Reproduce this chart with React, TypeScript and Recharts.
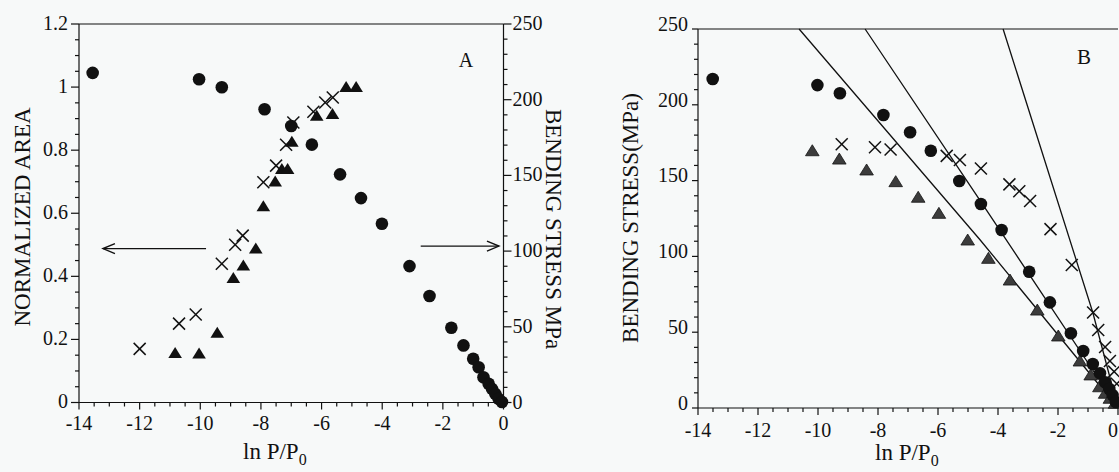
import { ScatterChart, Scatter, XAxis, YAxis, ReferenceLine } from "recharts";

const INK = "#111111";
const BG = "#f7f9f9";
const FONT = '"Liberation Serif", "Times New Roman", Times, serif';

// ---- panel A: bending stress (right axis) ----
const aStress: [number, number][] = [
  [-13.55, 217.7], [-10.04, 213.5], [-9.29, 208.2], [-7.88, 193.7], [-7.0, 182.6],
  [-6.32, 170.3], [-5.39, 150.7], [-4.7, 135], [-4.01, 118.1], [-3.1, 90.1],
  [-2.44, 70.3], [-1.72, 49.4], [-1.32, 37.7], [-1.0, 28.9], [-0.82, 23.3],
  [-0.66, 16.7], [-0.49, 12.4], [-0.38, 9], [-0.27, 5.7], [-0.16, 2.4], [-0.05, 0.3],
];

// ---- panel A: normalized area (left axis) ----
const aAreaCross: [number, number][] = [
  [-12.0, 0.17], [-10.7, 0.25], [-10.15, 0.279], [-9.29, 0.44], [-8.85, 0.5],
  [-8.6, 0.529], [-7.92, 0.698], [-7.5, 0.751], [-7.17, 0.817], [-6.93, 0.888],
  [-6.27, 0.922], [-5.88, 0.951], [-5.63, 0.967],
];
const aAreaTri: [number, number][] = [
  [-10.83, 0.157], [-10.04, 0.155], [-9.44, 0.221], [-8.91, 0.395], [-8.58, 0.434],
  [-8.17, 0.488], [-7.92, 0.622], [-7.53, 0.701], [-7.31, 0.74], [-7.12, 0.74],
  [-6.98, 0.827], [-6.16, 0.909], [-5.64, 0.915], [-5.19, 1.0], [-4.86, 1.0],
];

// arrows pointing at the axes: [x, y] start -> end
const aArrowLeft: [number, number][] = [[-9.81, 0.488], [-13.21, 0.488]];
const aArrowRight: [number, number][] = [[-2.73, 103.3], [-0.15, 103.3]];

// ---- panel B: bending stress ----
const bCircle: [number, number][] = [
  [-13.51, 217], [-10.02, 213], [-9.27, 207.6], [-7.82, 193.3], [-6.93, 181.9],
  [-6.24, 169.7], [-5.29, 149.7], [-4.57, 134.6], [-3.88, 117.4], [-2.96, 89.9],
  [-2.27, 69.7], [-1.57, 49.3], [-1.16, 37.6], [-0.84, 29], [-0.6, 22.9],
  [-0.43, 17], [-0.29, 12.5], [-0.18, 8.5], [-0.07, 4],
];
const bCross: [number, number][] = [
  [-9.21, 174], [-8.1, 172], [-7.58, 170.5], [-5.71, 166.3], [-5.27, 163.6],
  [-4.57, 158], [-3.62, 147.5], [-3.29, 143], [-2.93, 136.5], [-2.25, 118],
  [-1.54, 94.3], [-0.83, 63], [-0.66, 51.5], [-0.43, 40.2], [-0.27, 31],
  [-0.13, 24], [-0.04, 16],
];
const bTri: [number, number][] = [
  [-10.19, 169.7], [-9.29, 164.2], [-8.38, 157], [-7.41, 149.3], [-6.66, 139],
  [-5.97, 128.4], [-5.01, 110.8], [-4.32, 98.7], [-3.6, 84.4], [-2.69, 64.6],
  [-1.99, 47.5], [-1.27, 31], [-0.91, 21.8], [-0.62, 14], [-0.43, 9.7],
  [-0.27, 6.4], [-0.1, 3.1],
];
// straight fit lines
const bFitTri: [number, number][] = [[-10.63, 250], [-4.6, 111], [0, 0]];
const bFitCircle: [number, number][] = [[-8.43, 250], [-4.6, 137], [0, 0]];
const bFitCross: [number, number][] = [[-3.83, 250], [-0.84, 63], [0, 0]];

// ---- ticks ----
const xMajor = [-14, -12, -10, -8, -6, -4, -2, 0];
const areaMajor = [0, 0.2, 0.4, 0.6, 0.8, 1, 1.2];
const stressMajor = [0, 50, 100, 150, 200, 250];

function steps(lo: number, hi: number, step: number) {
  const out: number[] = [];
  for (let v = lo; v <= hi + 1e-9; v += step) out.push(+v.toFixed(4));
  return out;
}
const xTicks = steps(-14, 0, 0.5);
const areaTicks = steps(0, 1.2, 0.05);
const stressTicks = steps(0, 250, 10);

const isMajor = (v: number, majors: number[]) => majors.some((m) => Math.abs(m - v) < 1e-6);
const pts = (d: [number, number][]) => d.map(([x, y]) => ({ x, y }));

function BottomTick({ x, y, payload, majors, labelDy, clampRight }: any) {
  const major = isMajor(payload.value, majors);
  // keep the last label inside the visible window
  const atEdge = clampRight !== undefined && x + 6 > clampRight;
  return (
    <g>
      <line x1={x} x2={x} y1={y} y2={y + (major ? 7 : 4)} stroke={INK} strokeWidth={1.2} />
      {major && (
        <text
          x={atEdge ? clampRight : x}
          y={y + labelDy}
          textAnchor={atEdge ? "end" : "middle"}
          fontSize={20}
          fontFamily={FONT}
          fill={INK}
        >
          {payload.value}
        </text>
      )}
    </g>
  );
}

function SideTick({ x, y, payload, majors, side, len, gap, labelDy }: any) {
  const major = isMajor(payload.value, majors);
  const dir = side === "left" ? -1 : 1;
  const l = major ? len : 4;
  return (
    <g>
      <line x1={x} x2={x + dir * l} y1={y} y2={y} stroke={INK} strokeWidth={1.2} />
      {major && (
        <text
          x={x + dir * (len + gap)}
          y={y + labelDy}
          textAnchor={side === "left" ? "end" : "start"}
          fontSize={20}
          fontFamily={FONT}
          fill={INK}
        >
          {payload.value}
        </text>
      )}
    </g>
  );
}

function Arrow({ x1, y1, x2, y2 }: any) {
  const ang = Math.atan2(y2 - y1, x2 - x1);
  const L = 12;
  const W = 5;
  const bx = x2 - L * Math.cos(ang);
  const by = y2 - L * Math.sin(ang);
  const nx = -Math.sin(ang) * W;
  const ny = Math.cos(ang) * W;
  return (
    <g>
      <line x1={x1} y1={y1} x2={x2} y2={y2} stroke={INK} strokeWidth={1.4} />
      <polyline points={`${bx + nx},${by + ny} ${x2},${y2} ${bx - nx},${by - ny}`} fill="none" stroke={INK} strokeWidth={1.4} />
    </g>
  );
}

const Dot = ({ cx, cy }: any) => <circle cx={cx} cy={cy} r={6.3} fill={INK} />;
const Cross = ({ cx, cy }: any) => (
  <g stroke={INK} strokeWidth={1.5}>
    <line x1={cx - 6} y1={cy - 6} x2={cx + 6} y2={cy + 6} />
    <line x1={cx - 6} y1={cy + 6} x2={cx + 6} y2={cy - 6} />
  </g>
);
const Tri = ({ cx, cy }: any) => (
  <polygon points={`${cx},${cy - 6} ${cx + 6.8},${cy + 5} ${cx - 6.8},${cy + 5}`} fill={INK} />
);
const GreyTri = ({ cx, cy }: any) => (
  <polygon
    points={`${cx},${cy - 6} ${cx + 6.8},${cy + 5} ${cx - 6.8},${cy + 5}`}
    fill="#3c3c3c"
    stroke="#151515"
    strokeWidth={0.8}
  />
);
const NoShape = () => <g />;

function PanelA() {
  return (
    <ScatterChart width={600} height={472} margin={{ top: 24, right: 0, bottom: 0, left: 0 }}>
      <XAxis
        type="number"
        dataKey="x"
        domain={[-14, 0]}
        ticks={xTicks}
        interval={0}
        height={69.5}
        tickSize={0}
        tickMargin={0}
        axisLine={{ stroke: INK, strokeWidth: 1.2 }}
        tickLine={false}
        tick={<BottomTick majors={xMajor} labelDy={27} />}
      />
      <YAxis
        yAxisId="left"
        type="number"
        dataKey="y"
        domain={[0, 1.2]}
        ticks={areaTicks}
        interval={0}
        width={79}
        tickSize={0}
        tickMargin={0}
        axisLine={{ stroke: INK, strokeWidth: 1.2 }}
        tickLine={false}
        tick={<SideTick majors={areaMajor} side="left" len={8} gap={3} labelDy={5.5} />}
      />
      <YAxis
        yAxisId="right"
        orientation="right"
        type="number"
        dataKey="y"
        domain={[0, 250]}
        ticks={stressTicks}
        interval={0}
        width={96.5}
        tickSize={0}
        tickMargin={0}
        axisLine={{ stroke: INK, strokeWidth: 1.2 }}
        tickLine={false}
        tick={<SideTick majors={stressMajor} side="right" len={8} gap={1} labelDy={6} />}
      />
      <ReferenceLine yAxisId="left" y={1.2} stroke={INK} strokeWidth={1.2} ifOverflow="visible" />
      <ReferenceLine
        yAxisId="left"
        segment={aArrowLeft.map(([x, y]) => ({ x, y }))}
        shape={(p: any) => <Arrow {...p} />}
      />
      <ReferenceLine
        yAxisId="right"
        segment={aArrowRight.map(([x, y]) => ({ x, y }))}
        shape={(p: any) => <Arrow {...p} />}
      />
      <Scatter yAxisId="right" data={pts(aStress)} shape={Dot} isAnimationActive={false} />
      <Scatter yAxisId="left" data={pts(aAreaTri)} shape={Tri} isAnimationActive={false} />
      <Scatter yAxisId="left" data={pts(aAreaCross)} shape={Cross} isAnimationActive={false} />
    </ScatterChart>
  );
}

function PanelB() {
  return (
    <ScatterChart width={600} height={472} margin={{ top: 29, right: 42, bottom: 0, left: 0 }}>
      <XAxis
        type="number"
        dataKey="x"
        domain={[-14, 0]}
        ticks={xTicks}
        interval={0}
        height={64}
        tickSize={0}
        tickMargin={0}
        axisLine={{ stroke: INK, strokeWidth: 1.2 }}
        tickLine={false}
        tick={<BottomTick majors={xMajor} labelDy={28.5} clampRight={558} />}
      />
      <YAxis
        type="number"
        dataKey="y"
        domain={[0, 250]}
        ticks={stressTicks}
        interval={0}
        width={138}
        tickSize={0}
        tickMargin={0}
        axisLine={{ stroke: INK, strokeWidth: 1.2 }}
        tickLine={false}
        tick={<SideTick majors={stressMajor} side="left" len={6} gap={4} labelDy={1.8} />}
      />
      <ReferenceLine y={250} stroke={INK} strokeWidth={1.2} ifOverflow="visible" />
      <Scatter data={pts(bFitTri)} line={{ stroke: INK, strokeWidth: 1.3 }} shape={NoShape} isAnimationActive={false} />
      <Scatter data={pts(bFitCircle)} line={{ stroke: INK, strokeWidth: 1.3 }} shape={NoShape} isAnimationActive={false} />
      <Scatter data={pts(bFitCross)} line={{ stroke: INK, strokeWidth: 1.3 }} shape={NoShape} isAnimationActive={false} />
      <Scatter data={pts(bTri)} shape={GreyTri} isAnimationActive={false} />
      <Scatter data={pts(bCircle)} shape={Dot} isAnimationActive={false} />
      <Scatter data={pts(bCross)} shape={Cross} isAnimationActive={false} />
    </ScatterChart>
  );
}

function Titles() {
  const t = { fontFamily: FONT, fill: INK };
  return (
    <svg width={1119} height={472} style={{ position: "absolute", left: 0, top: 0, pointerEvents: "none" }}>
      <text {...t} fontSize={23} textAnchor="middle" dominantBaseline="central" transform="translate(22,217) rotate(-90)">
        NORMALIZED AREA
      </text>
      <text {...t} fontSize={23} textAnchor="middle" dominantBaseline="central" transform="translate(553,229) rotate(90)">
        BENDING STRESS MPa
      </text>
      <text {...t} fontSize={23} textAnchor="middle" dominantBaseline="central" transform="translate(630,218) rotate(-90)">
        BENDING STRESS(MPa)
      </text>
      <text {...t} fontSize={23} x={243} y={459}>
        ln P/P<tspan fontSize={16} dy={6}>0</tspan>
      </text>
      <text {...t} fontSize={23} x={875} y={460}>
        ln P/P<tspan fontSize={16} dy={6}>0</tspan>
      </text>
      <text {...t} fontSize={20} x={466} y={67} textAnchor="middle">A</text>
      <text {...t} fontSize={21} x={1084} y={64} textAnchor="middle">B</text>
    </svg>
  );
}

export default function App() {
  return (
    <div
      style={{
        position: "fixed",
        left: 0,
        top: 0,
        width: 1119,
        height: 472,
        overflow: "hidden",
        background: BG,
      }}
    >
      <div style={{ position: "absolute", left: 0, top: 0 }}>
        <PanelA />
      </div>
      <div style={{ position: "absolute", left: 560, top: 0 }}>
        <PanelB />
      </div>
      <Titles />
    </div>
  );
}
